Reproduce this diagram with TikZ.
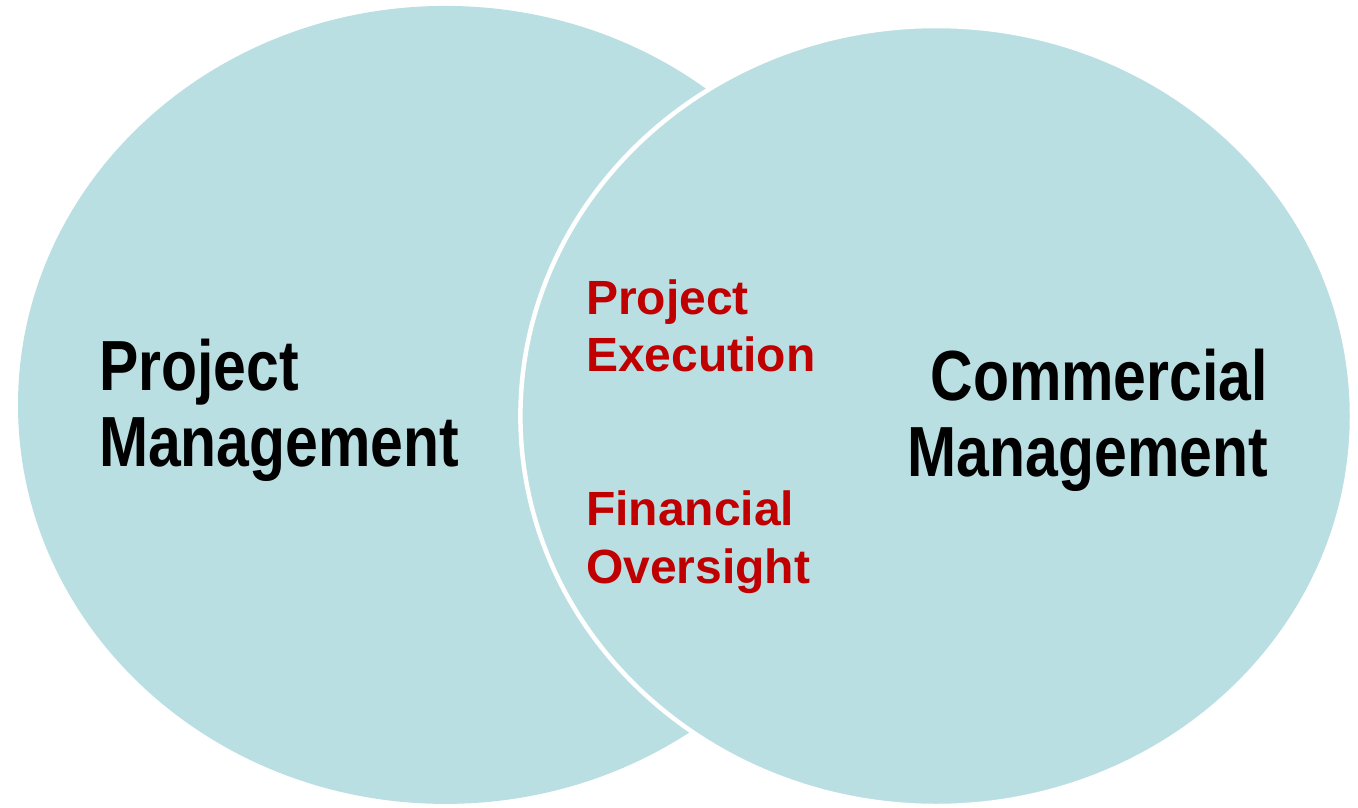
\documentclass[tikz,border=0pt]{standalone}
\usepackage{fontspec}
\setmainfont{Liberation Sans}
\newfontfamily\narrowfont[FakeStretch=0.83]{Liberation Sans}
\definecolor{venn}{RGB}{186,223,227}
\definecolor{overlapred}{RGB}{192,0,0}
\begin{document}
\begin{tikzpicture}[x=1pt,y=-1pt,
  circlefill/.style={fill=venn},
  circleedge/.style={fill=venn, draw=white, line width=4.5pt},
  bigtext/.style={font={\narrowfont\bfseries\fontsize{71}{76}\selectfont}, text=black, inner sep=0pt, outer sep=0pt},
  overlaptext/.style={font={\bfseries\fontsize{48}{57.5}\selectfont}, text=overlapred, inner sep=0pt, outer sep=0pt}]
\useasboundingbox (0,0) rectangle (1358,807);
\fill[circlefill] (445.3,404.9) ellipse [x radius=427.3pt, y radius=399pt];
\filldraw[circleedge] (936.2,416) ellipse [x radius=415.8pt, y radius=390pt];
\node[bigtext, align=left, anchor=base west] (pm) at (99,466.7) {Project\\Management};
\node[bigtext, align=right, anchor=base east] (cm) at (1268,476) {Commercial\\Management};
\node[overlaptext, align=left, anchor=base west] (pe) at (586,371.7) {Project\\Execution};
\node[overlaptext, align=left, anchor=base west] (fo) at (586,583.3) {Financial\\Oversight};
\end{tikzpicture}
\end{document}
